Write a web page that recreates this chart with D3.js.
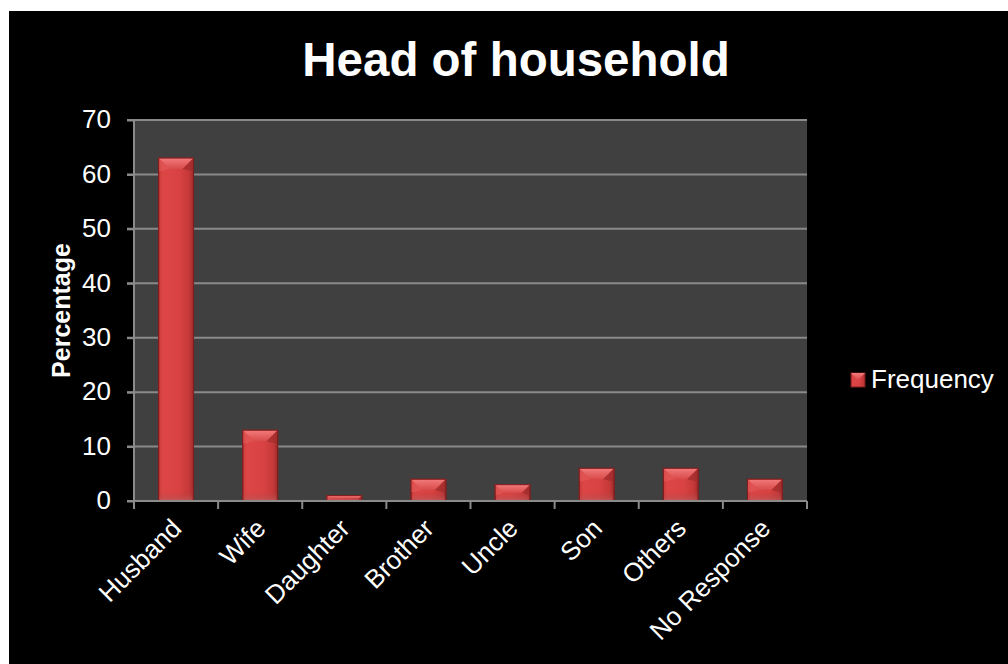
<!DOCTYPE html>
<html>
<head>
<meta charset="utf-8">
<script src="https://cdn.jsdelivr.net/npm/d3@7"></script>
<style>
  html, body { margin: 0; padding: 0; background: #ffffff; }
  svg { display: block; }
  text { font-family: Arial, "Liberation Sans", sans-serif; fill: #ffffff; }
</style>
</head>
<body>
<svg id="chart" width="1008" height="664"></svg>
<script>
// Chart data
const categories = ["Husband", "Wife", "Daughter", "Brother", "Uncle", "Son", "Others", "No Response"];
const frequency = [63, 13, 1, 4, 3, 6, 6, 4];
const yTicks = [0, 10, 20, 30, 40, 50, 60, 70];
const chartTitle = "Head of household";
const yAxisTitle = "Percentage";
const seriesName = "Frequency";

const svg = d3.select("#chart");

// Black chart canvas inside a thin white margin
svg.append("rect").attr("x", 9).attr("y", 11).attr("width", 999).attr("height", 653).attr("fill", "#000");

const plot = { left: 134, right: 807, top: 120, bottom: 501 };

const xBand = d3.scaleBand().domain(categories).range([plot.left, plot.right]).padding(0);
const y = d3.scaleLinear().domain([0, 70]).range([plot.bottom, plot.top]);
const barW = xBand.bandwidth() * 0.415;

// Gradients for the bevelled bars
const defs = svg.append("defs");
const body = defs.append("linearGradient").attr("id", "barBody").attr("x1", "0").attr("x2", "1").attr("y1", "0").attr("y2", "0");
body.append("stop").attr("offset", "0").attr("stop-color", "#c83a3a");
body.append("stop").attr("offset", "0.12").attr("stop-color", "#de4646");
body.append("stop").attr("offset", "0.6").attr("stop-color", "#d84242");
body.append("stop").attr("offset", "0.88").attr("stop-color", "#c43838");
body.append("stop").attr("offset", "1").attr("stop-color", "#9c2a2a");

const topFace = defs.append("linearGradient").attr("id", "barTop").attr("x1", "0").attr("x2", "0").attr("y1", "0").attr("y2", "1");
topFace.append("stop").attr("offset", "0").attr("stop-color", "#f37a7a");
topFace.append("stop").attr("offset", "1").attr("stop-color", "#d84a4a");

const baseFade = defs.append("linearGradient").attr("id", "barBase").attr("x1", "0").attr("x2", "0").attr("y1", "0").attr("y2", "1");
baseFade.append("stop").attr("offset", "0").attr("stop-color", "#b83a3a").attr("stop-opacity", 0);
baseFade.append("stop").attr("offset", "1").attr("stop-color", "#b86060").attr("stop-opacity", 0.7);

// Plot area background
svg.append("rect")
  .attr("x", plot.left).attr("y", plot.top)
  .attr("width", plot.right - plot.left).attr("height", plot.bottom - plot.top)
  .attr("fill", "#404040");

// Gridlines
svg.append("g").selectAll("line").data(yTicks.filter(d => d > 0)).join("line")
  .attr("x1", plot.left - 7).attr("x2", plot.right)
  .attr("y1", d => y(d)).attr("y2", d => y(d))
  .attr("stroke", "#8a8a8a").attr("stroke-width", 2);

// Y axis
const yAxis = svg.append("g").attr("transform", `translate(${plot.left},0)`)
  .call(d3.axisLeft(y).tickValues(yTicks).tickSize(7).tickPadding(16));
yAxis.select(".domain").attr("stroke", "#8a8a8a").attr("stroke-width", 2).attr("d", `M-7,${plot.bottom}H0V${plot.top}`);
yAxis.selectAll(".tick line").attr("stroke", "#8a8a8a").attr("stroke-width", 2);
yAxis.selectAll(".tick text").attr("font-size", 26).attr("fill", "#fff").attr("font-family", "Arial, 'Liberation Sans', sans-serif").attr("dy", "0.3em");

// Bars
const bars = svg.append("g");
categories.forEach((c, i) => {
  const v = frequency[i];
  const x0 = xBand(c) + (xBand.bandwidth() - barW) / 2;
  const y0 = y(v);
  const h = y(0) - y0;
  const d = Math.min(11, h * 0.5);
  const g = bars.append("g");
  g.append("rect").attr("x", x0).attr("y", y0).attr("width", barW).attr("height", h)
    .attr("fill", "url(#barBody)").attr("stroke", "#8e2424").attr("stroke-width", 1);
  // bottom fade near the axis
  g.append("rect").attr("x", x0 + 1).attr("y", Math.max(y0, y(0) - 10)).attr("width", barW - 2).attr("height", Math.min(h, 10))
    .attr("fill", "url(#barBase)");
  // top bevel face
  g.append("path")
    .attr("d", `M${x0},${y0}L${x0 + barW},${y0}L${x0 + barW - d},${y0 + d}L${x0 + d},${y0 + d}Z`)
    .attr("fill", "url(#barTop)");
  // slanted bevel sides
  g.append("path")
    .attr("d", `M${x0},${y0}L${x0 + d},${y0 + d}L${x0 + 3},${y0 + d + 2}L${x0},${y0 + d + 2}Z`)
    .attr("fill", "#e25a5a").attr("opacity", 0.6);
  g.append("path")
    .attr("d", `M${x0 + barW},${y0}L${x0 + barW - d},${y0 + d}L${x0 + barW - 3},${y0 + d + 2}L${x0 + barW},${y0 + d + 2}Z`)
    .attr("fill", "#a02c2c").attr("opacity", 0.7);
  g.append("rect").attr("x", x0).attr("y", y0).attr("width", barW).attr("height", h)
    .attr("fill", "none").attr("stroke", "#7e1e1e").attr("stroke-width", 1);
});

// X axis with ticks at category boundaries
const bounds = categories.map(c => xBand(c)).concat([plot.right]);
const xAxis = svg.append("g");
xAxis.append("line").attr("x1", plot.left).attr("x2", plot.right).attr("y1", plot.bottom).attr("y2", plot.bottom)
  .attr("stroke", "#8a8a8a").attr("stroke-width", 2);
xAxis.selectAll("line.tk").data(bounds).join("line").attr("class", "tk")
  .attr("x1", d => d).attr("x2", d => d).attr("y1", plot.bottom).attr("y2", plot.bottom + 8)
  .attr("stroke", "#8a8a8a").attr("stroke-width", 2);
xAxis.selectAll("text").data(categories).join("text")
  .attr("transform", c => `translate(${xBand(c) + xBand.bandwidth() / 2 + 7},${plot.bottom + 29}) rotate(-45)`)
  .attr("text-anchor", "end")
  .attr("font-size", 26)
  .text(c => c);

// Title
svg.append("text").attr("x", 516).attr("y", 76).attr("text-anchor", "middle")
  .attr("font-size", 47.5).attr("font-weight", "bold").text(chartTitle);

// Y axis title
svg.append("text").attr("transform", `translate(70,${(plot.top + plot.bottom) / 2}) rotate(-90)`)
  .attr("text-anchor", "middle").attr("font-size", 25).attr("font-weight", "bold").text(yAxisTitle);

// Legend
const lg = svg.append("g").attr("transform", "translate(851,373)");
lg.append("rect").attr("width", 14).attr("height", 14).attr("fill", "url(#barBody)").attr("stroke", "#7e1e1e");
lg.append("path").attr("d", "M0,0L14,0L7,7Z").attr("fill", "url(#barTop)");
lg.append("text").attr("x", 20).attr("y", 15).attr("font-size", 26).text(seriesName);
</script>
</body>
</html>
